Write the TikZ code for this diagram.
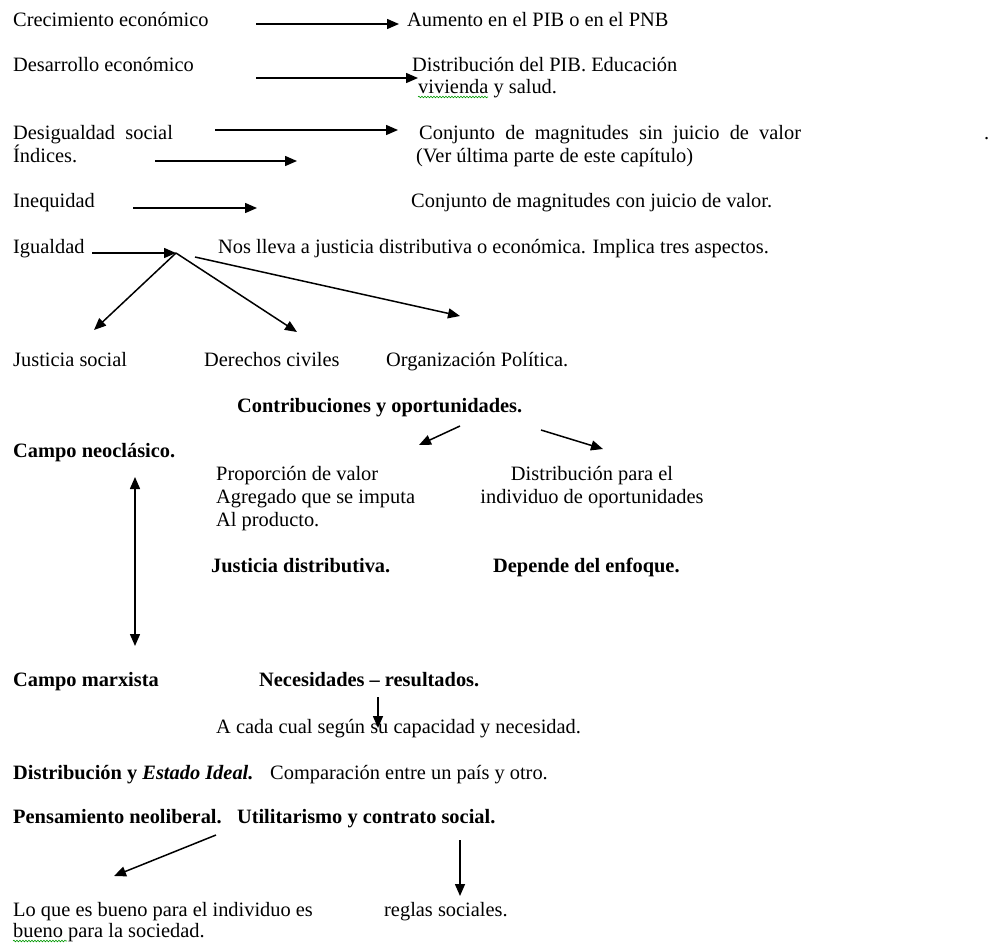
\documentclass[tikz,border=0pt]{standalone}
\usepackage{fontspec}
\setmainfont{Liberation Serif}
\usetikzlibrary{arrows.meta,decorations.pathmorphing}
\begin{document}
\begin{tikzpicture}[x=1pt,y=-1pt,
  txt/.style={anchor=base west,inner sep=0pt,font=\fontsize{20.4}{24}\selectfont},
  txtc/.style={anchor=base,inner sep=0pt,font=\fontsize{20.4}{24}\selectfont},
  bld/.style={txt,font=\fontsize{20.4}{24}\selectfont\bfseries},
  arr/.style={line width=1.5pt,-{Triangle[length=12pt,width=10pt]}},
  darr/.style={line width=1.5pt,{Triangle[length=12pt,width=10pt]}-{Triangle[length=12pt,width=10pt]}},
  spell/.style={draw=green!60!black,line width=0.6pt,decorate,decoration={snake,amplitude=0.8pt,segment length=3pt}}]
\useasboundingbox (0,0) rectangle (998,943);
\fill[white] (0,0) rectangle (998,943);
% row 1
\node[txt] (creci) at (13,26) {Crecimiento económico};
\node[txt] (aumento) at (407,26) {Aumento en el PIB o en el PNB};
\coordinate (a1s) at (256,24); \coordinate (a1e) at (399,24);
\draw[arr] (a1s) -- (a1e);
% row 2
\node[txt] (desarr) at (13,71) {Desarrollo económico};
\node[txt] (distpib) at (412,71) {Distribución del PIB. Educación};
\node[txt] (vivienda) at (418,93) {vivienda y salud.};
\coordinate (a2s) at (256,78); \coordinate (a2e) at (418,78);
\draw[arr] (a2s) -- (a2e);
\draw[spell] (418,97) -- (488,97);
% row 3
\node[txt] (desig) at (13,139) {Desigualdad\ \ social};
\node[txt] (indices) at (13,162) {Índices.};
\node[txt] (sinjuicio) at (419,139) {Conjunto\ \ de\ \ magnitudes\ \ sin\ \ juicio\ \ de\ \ valor};
\node[txt] (dot) at (984,139) {.};
\node[txt] (ver) at (416,162) {(Ver última parte de este capítulo)};
\coordinate (a3s) at (215,130); \coordinate (a3e) at (398,130);
\draw[arr] (a3s) -- (a3e);
\coordinate (a4s) at (155,161); \coordinate (a4e) at (297,161);
\draw[arr] (a4s) -- (a4e);
% row 4
\node[txt] (ineq) at (13,207) {Inequidad};
\node[txt] (conjuicio) at (411,207) {Conjunto de magnitudes con juicio de valor.};
\coordinate (a5s) at (133,208); \coordinate (a5e) at (257,208);
\draw[arr] (a5s) -- (a5e);
% igualdad
\node[txt] (igual) at (13,253) {Igualdad};
\node[txt] (nos) at (218,253) {Nos lleva a justicia distributiva o económica. Implica tres aspectos.};
\coordinate (ig1) at (92,253); \coordinate (hub) at (176,253);
\draw[arr] (ig1) -- (hub);
\coordinate (t1) at (94,330); \coordinate (t2) at (297,332);
\coordinate (h3) at (195,257); \coordinate (t3) at (460,316);
\draw[arr] (hub) -- (t1);
\draw[arr] (hub) -- (t2);
\draw[arr] (h3) -- (t3);
\node[txt] (jsocial) at (13,366) {Justicia social};
\node[txt] (dciv) at (204,366) {Derechos civiles};
\node[txt] (orgpol) at (386,366) {Organización Política.};
% contribuciones
\node[bld] (contrib) at (237,412) {Contribuciones y oportunidades.};
\coordinate (c1s) at (460,426); \coordinate (c1e) at (419,445);
\coordinate (c2s) at (541,430); \coordinate (c2e) at (603,449);
\draw[arr] (c1s) -- (c1e);
\draw[arr] (c2s) -- (c2e);
\node[bld] (neoc) at (13,457) {Campo neoclásico.};
\node[txt] (prop1) at (216,480) {Proporción de valor};
\node[txt] (prop2) at (216,503) {Agregado que se imputa};
\node[txt] (prop3) at (216,526) {Al producto.};
\node[txtc] (dist1) at (592,480) {Distribución para el};
\node[txtc] (dist2) at (592,503) {individuo de oportunidades};
\node[bld] (jdist) at (211,572) {Justicia distributiva.};
\node[bld] (depende) at (493,572) {Depende del enfoque.};
\coordinate (v1) at (135,477); \coordinate (v2) at (135,646);
\draw[darr] (v1) -- (v2);
% marxista
\node[bld] (marx) at (13,686) {Campo marxista};
\node[bld] (neces) at (259,686) {Necesidades -- resultados.};
\coordinate (m1) at (378,697); \coordinate (m2) at (378,728);
\node[txt] (cada) at (216,733) {A cada cual según su capacidad y necesidad.};
\draw[arr] (m1) -- (m2);
\node[bld] (estado) at (13,779) {Distribución y \textit{Estado Ideal.}};
\node[txt] (compar) at (270,779) {Comparación entre un país y otro.};
% neoliberal
\node[bld] (neolib) at (13,823) {Pensamiento neoliberal.\ \ \ Utilitarismo y contrato social.};
\coordinate (n1s) at (216,835); \coordinate (n1e) at (114,876);
\coordinate (n2s) at (460,840); \coordinate (n2e) at (460,896);
\draw[arr] (n1s) -- (n1e);
\draw[arr] (n2s) -- (n2e);
\node[txt] (bueno1) at (13,916) {Lo que es bueno para el individuo es};
\node[txt] (bueno2) at (13,937) {bueno para la sociedad.};
\node[txt] (reglas) at (384,916) {reglas sociales.};
\draw[spell] (13,941) -- (67,941);
\end{tikzpicture}
\end{document}
